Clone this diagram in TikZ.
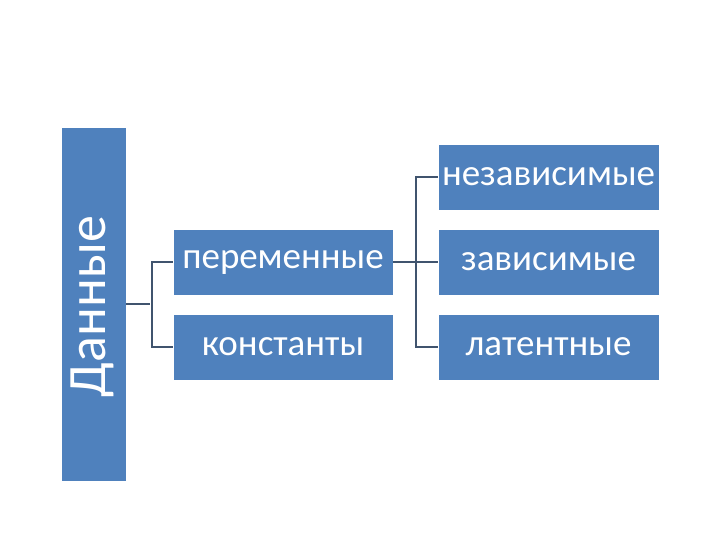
\documentclass[tikz,border=0pt]{standalone}
\usepackage{fontspec}
\setmainfont{Carlito}
\definecolor{boxblue}{RGB}{79,129,189}
\definecolor{linecol}{RGB}{64,84,110}
\begin{document}
\begin{tikzpicture}[x=1pt,y=1pt,
  box/.style={fill=boxblue,draw=white,line width=0.6pt,text=white,inner sep=0pt,font=\fontsize{37}{40}\selectfont},
  conn/.style={draw=linecol,line width=1.8pt}]
\useasboundingbox (0,0) rectangle (720,540);
\fill[white] (0,0) rectangle (720,540);
\node[box,minimum width=65pt,minimum height=354pt] (data) at (93.5,236) {};
\node[text=white,rotate=90,inner sep=0pt,font=\fontsize{54}{58}\selectfont] (datat) at (92,233.5) {Данные};
\node[box,minimum width=220pt,minimum height=66pt] (per) at (283,278) {переменные};
\node[box,minimum width=220pt,minimum height=66pt] (kon) at (283,193) {константы};
\node[box,minimum width=221pt,minimum height=66pt] (nez) at (548.5,363) {независимые};
\node[box,minimum width=221pt,minimum height=66pt] (zav) at (548.5,278) {зависимые};
\node[box,minimum width=221pt,minimum height=66pt] (lat) at (548.5,193) {латентные};
\coordinate (j1) at (150,236);
\coordinate (j2) at (416,278);
\draw[conn] (data.east |- j1) -- (j1);
\draw[conn] (per.west) -- ++(-21,0) |- (kon.west);
\draw[conn] (per.east) -- (zav.west);
\draw[conn] (nez.west) -- ++(-22,0) |- (lat.west);
\end{tikzpicture}
\end{document}
